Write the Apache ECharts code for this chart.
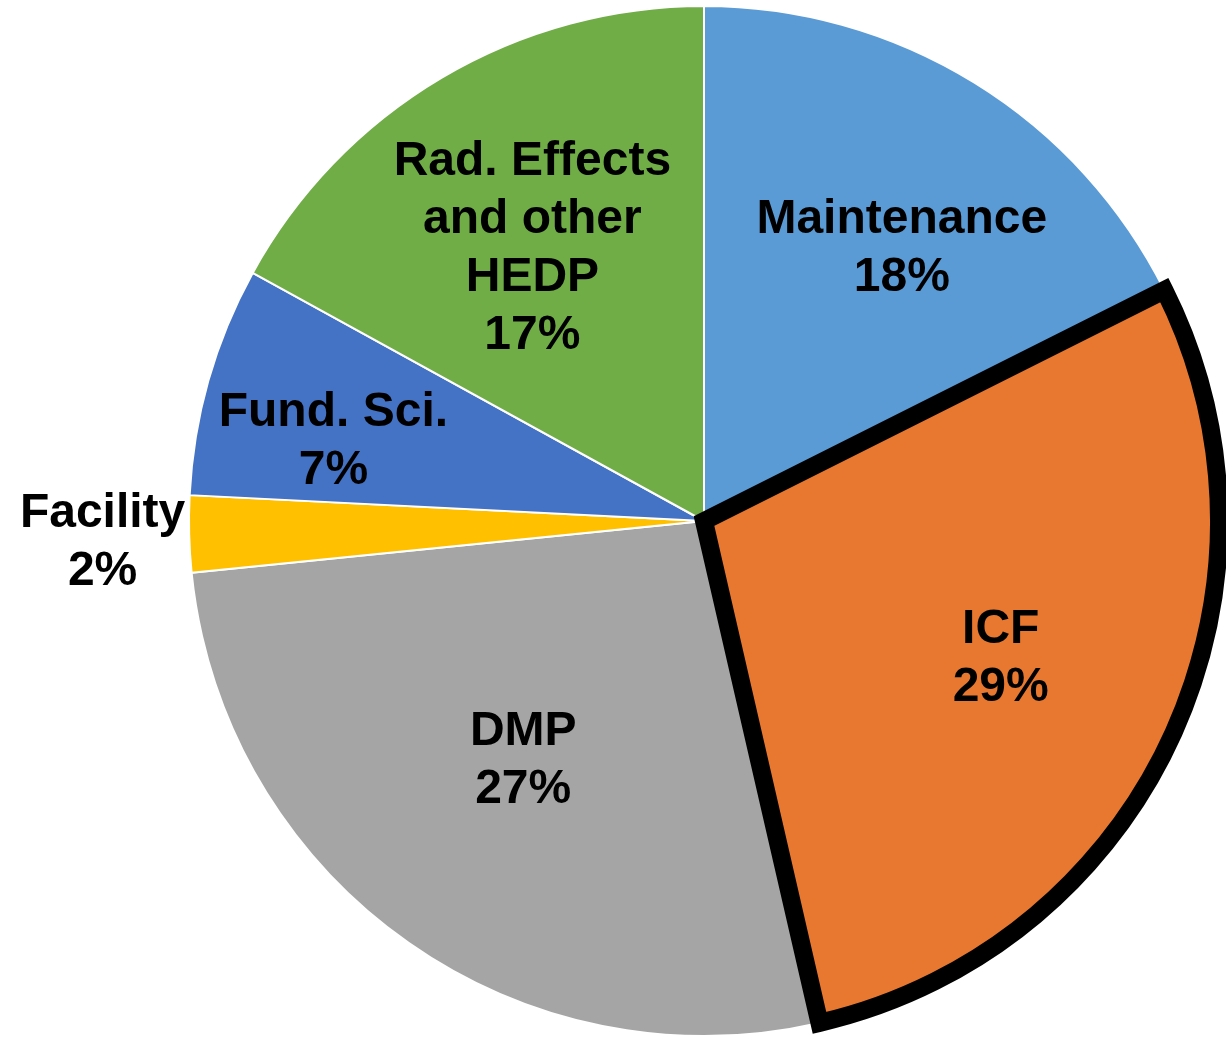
<!DOCTYPE html>
<html>
<head>
<meta charset="utf-8">
<script src="https://cdn.jsdelivr.net/npm/echarts@6/dist/echarts.min.js"></script>
<style>
  html, body { margin: 0; padding: 0; background: #fff; }
  #chart { width: 1226px; height: 1039px; }
</style>
</head>
<body>
<div id="chart"></div>
<script>
// slices, clockwise from 12 o'clock
var categories = ["Maintenance", "ICF", "DMP", "Facility", "Fund. Sci.", "Rad. Effects\nand other\nHEDP"];
var shares = [17.6, 28.8, 27.0, 2.4, 7.2, 17.0];
var colors = ["#5B9BD5", "#E8782F", "#A5A5A5", "#FFC000", "#4472C4", "#70AD47"];
var highlighted = "ICF";

// label nudges from the default inside spot (layout only)
var labelShift = [[61, -51], [61, 27], [-29, 28], [-341, 15], [-120, -8], [-39, -48]];

var chart = echarts.init(document.getElementById("chart"));

var pieData = categories.map(function (name, i) {
  return { name: name, value: shares[i], itemStyle: { color: colors[i] } };
});

var outlineData = categories.map(function (name, i) {
  var on = name === highlighted;
  return {
    name: name,
    value: shares[i],
    itemStyle: {
      color: "rgba(0,0,0,0)",
      borderColor: on ? "#000" : "rgba(0,0,0,0)",
      borderWidth: on ? 18 : 0,
      borderJoin: "miter",
      borderMiterLimit: 10
    }
  };
});

var option = {
  animation: false,
  series: [
    {
      type: "pie",
      center: [704, 521],
      radius: 515,
      startAngle: 90,
      clockwise: true,
      avoidLabelOverlap: false,
      percentPrecision: 0,
      itemStyle: { borderColor: "#fff", borderWidth: 2 },
      label: {
        show: true,
        position: "inside",
        formatter: "{b}\n{d}%",
        color: "#000",
        fontFamily: "Liberation Sans, Arial, sans-serif",
        fontWeight: "bold",
        fontSize: 48,
        lineHeight: 58
      },
      labelLine: { show: false },
      labelLayout: function (params) {
        var s = labelShift[params.dataIndex];
        return { dx: s[0], dy: s[1] };
      },
      emphasis: { disabled: true },
      data: pieData
    },
    {
      type: "pie",
      z: 5,
      silent: true,
      center: [704, 521],
      radius: 515,
      startAngle: 90,
      clockwise: true,
      label: { show: false },
      labelLine: { show: false },
      emphasis: { disabled: true },
      data: outlineData
    }
  ]
};

chart.setOption(option);
</script>
</body>
</html>
